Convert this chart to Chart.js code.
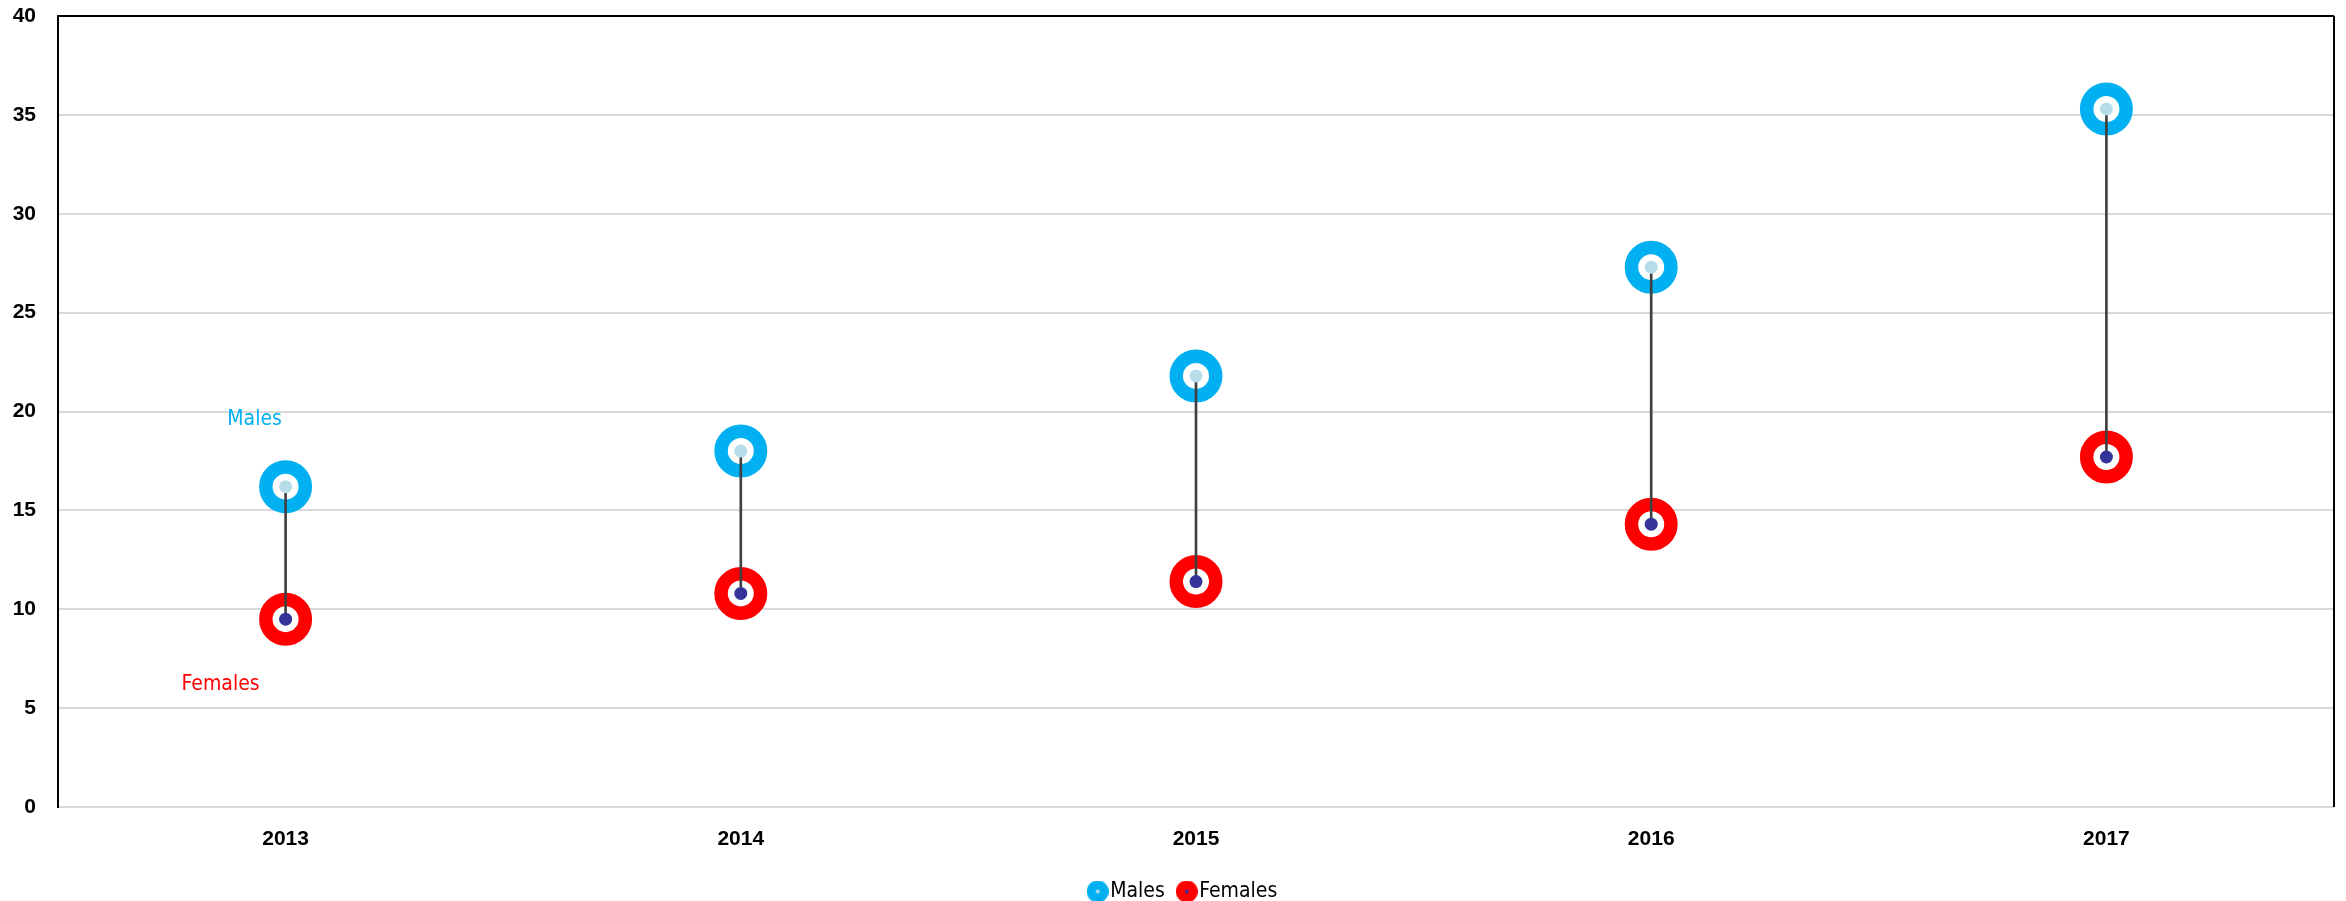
<!DOCTYPE html>
<html>
<head>
<meta charset="utf-8">
<script src="https://cdn.jsdelivr.net/npm/chart.js@4.4.1/dist/chart.umd.min.js"></script>
<style>
  html, body { margin: 0; padding: 0; background: #ffffff; }
  #wrap { width: 2346px; height: 901px; position: relative; }
</style>
</head>
<body>
<div id="wrap"><canvas id="c" width="2346" height="901"></canvas></div>
<script>
// ---- data ----
const years = ['2013', '2014', '2015', '2016', '2017'];
const males = [16.2, 18.0, 21.8, 27.3, 35.3];
const females = [9.5, 10.8, 11.4, 14.3, 17.7];
const seriesNames = ['Males', 'Females'];
const yTicks = [0, 5, 10, 15, 20, 25, 30, 35, 40];
// labels written in the plot near the first category: [text, value]
const noteMales = ['Males', 19.6];
const noteFemales = ['Females', 6.2];

// ---- styles ----
const BLUE = '#00B0F0', RED = '#FF0000';
const BLUE_DOT = '#B7DEE8', RED_DOT = '#333399';
const NARROW = '"DejaVu Sans Condensed", "Liberation Sans Narrow", "Liberation Sans", sans-serif';

function legendIcon(ring, dot) {
  const c = document.createElement('canvas');
  c.width = 22; c.height = 22;
  const g = c.getContext('2d');
  g.fillStyle = ring;
  g.beginPath(); g.arc(11, 11, 11, 0, Math.PI * 2); g.fill();
  g.fillStyle = dot;
  g.beginPath(); g.arc(11, 11, 2, 0, Math.PI * 2); g.fill();
  return c;
}
const iconM = legendIcon(BLUE, BLUE_DOT);
const iconF = legendIcon(RED, RED_DOT);

const frame = {
  id: 'frame',
  afterLayout(chart) {
    if (chart.legend) { chart.legend.left += 13; chart.legend.right += 13; }
  },
  afterDraw(chart) {
    const { ctx, chartArea: a, scales } = chart;
    ctx.save();
    ctx.strokeStyle = '#000';
    ctx.lineWidth = 2;
    ctx.beginPath();
    ctx.moveTo(a.left - 1, a.top); ctx.lineTo(a.right, a.top);
    ctx.moveTo(a.right, a.top); ctx.lineTo(a.right, a.bottom);
    ctx.stroke();
    ctx.font = '21px ' + NARROW;
    ctx.textAlign = 'center';
    ctx.textBaseline = 'middle';
    const x0 = scales.x.getPixelForValue(0);
    ctx.fillStyle = BLUE;
    ctx.fillText(noteMales[0], x0 - 31, scales.y.getPixelForValue(noteMales[1]));
    ctx.fillStyle = RED;
    ctx.fillText(noteFemales[0], x0 - 65, scales.y.getPixelForValue(noteFemales[1]));
    ctx.restore();
  }
};

new Chart(document.getElementById('c'), {
  type: 'bar',
  data: {
    labels: years,
    datasets: [
      { type: 'line', label: seriesNames[0], data: males, showLine: false,
        pointRadius: 19.75, pointHoverRadius: 19.75, borderWidth: 13.5, pointBorderWidth: 13.5,
        pointBorderColor: BLUE, pointBackgroundColor: '#fff', borderColor: BLUE, order: 3 },
      { type: 'line', label: seriesNames[1], data: females, showLine: false,
        pointRadius: 19.75, pointHoverRadius: 19.75, borderWidth: 13.5, pointBorderWidth: 13.5,
        pointBorderColor: RED, pointBackgroundColor: '#fff', borderColor: RED, order: 3 },
      { type: 'bar', label: 'range', data: years.map((y, i) => [females[i], males[i]]),
        backgroundColor: '#404040', borderWidth: 0, barThickness: 2, order: 2 },
      { type: 'line', label: 'mdot', data: males, showLine: false,
        pointRadius: 6.5, pointBorderWidth: 0, pointBackgroundColor: BLUE_DOT, order: 1 },
      { type: 'line', label: 'fdot', data: females, showLine: false,
        pointRadius: 6.5, pointBorderWidth: 0, pointBackgroundColor: RED_DOT, order: 1 }
    ]
  },
  options: {
    responsive: false,
    animation: false,
    layout: { autoPadding: false, padding: { left: 13, right: 12, top: 16, bottom: -11 } },
    plugins: {
      tooltip: { enabled: false },
      legend: {
        position: 'bottom',
        labels: {
          usePointStyle: true,
          pointStyleWidth: 4,
          padding: 20,
          color: '#000',
          font: { family: NARROW, size: 21 },
          generateLabels: () => [
            { text: seriesNames[0], pointStyle: iconM, fillStyle: BLUE, strokeStyle: BLUE, lineWidth: 0, datasetIndex: 0 },
            { text: seriesNames[1], pointStyle: iconF, fillStyle: RED, strokeStyle: RED, lineWidth: 0, datasetIndex: 1 }
          ]
        }
      }
    },
    scales: {
      x: {
        offset: true,
        afterFit: (s) => { s.height = 54; },
        grid: { display: false, drawTicks: false },
        border: { color: '#d9d9d9', width: 2 },
        ticks: { color: '#000', padding: 20, font: { family: '"Liberation Sans", Arial, sans-serif', size: 21, weight: 'bold' } }
      },
      y: {
        min: 0, max: 40,
        afterBuildTicks: (s) => { s.ticks = yTicks.map(v => ({ value: v })); },
        afterFit: (s) => { s.width = 45; s.paddingTop = 0; s.paddingBottom = 0; },
        grid: { color: '#d9d9d9', lineWidth: 2, drawTicks: false },
        border: { color: '#000', width: 2 },
        ticks: { color: '#000', padding: 22, font: { family: '"Liberation Sans", Arial, sans-serif', size: 21, weight: 'bold' } }
      }
    }
  },
  plugins: [frame]
});
</script>
</body>
</html>
